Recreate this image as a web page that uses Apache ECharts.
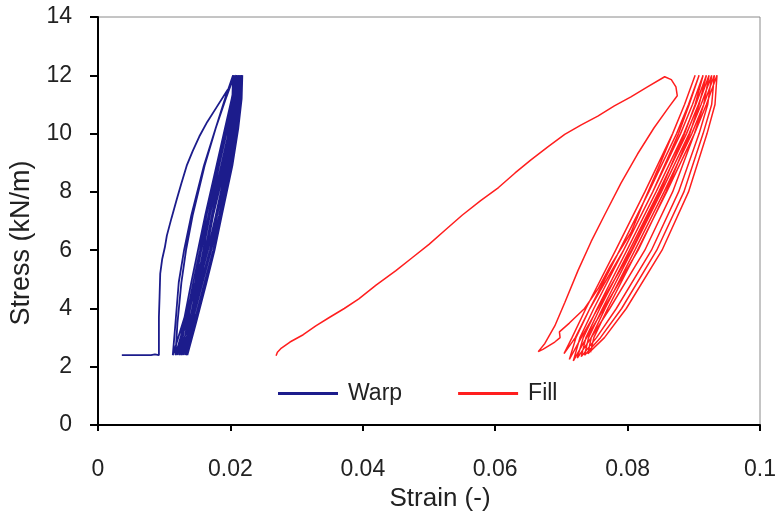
<!DOCTYPE html>
<html>
<head>
<meta charset="utf-8">
<script src="https://cdn.jsdelivr.net/npm/echarts@6/dist/echarts.min.js"></script>
<style>html,body{margin:0;padding:0;background:#fff}#c{width:779px;height:517px}</style>
</head>
<body>
<div id="c"></div>
<script>
// ---- data (strain, stress) ----
var xTicks = [0, 0.02, 0.04, 0.06, 0.08, 0.1];
var yTicks = [0, 2, 4, 6, 8, 10, 12, 14];

var warpLoading = [[0.0036,2.4],[0.0060,2.4],[0.0080,2.4],[0.0086,2.43],[0.0092,2.4],[0.0092,3.0],[0.0092,3.7],[0.0093,4.4],[0.0094,5.2],[0.0097,5.7],[0.0101,6.1],[0.0104,6.5],[0.0111,7.1],[0.0119,7.75],[0.0126,8.3],[0.0134,8.9],[0.0143,9.4],[0.0153,9.9],[0.0165,10.4],[0.0179,10.9],[0.0193,11.4],[0.0203,11.75],[0.0209,12.0]];
var warpCycles = [
[0.0208,11.2],[0.0202,10.2],[0.0192,8.9],[0.0174,7.2],[0.0161,6],[0.0147,4.9],[0.0128,3.5],[0.0113,2.4],
[0.0117,3.5],[0.0122,4.9],[0.0130,6],[0.0141,7.2],[0.0160,8.9],[0.0178,10.2],[0.0193,11.2],[0.0206,12],
[0.0205,11.2],[0.0200,10.2],[0.0190,8.9],[0.0174,7.2],[0.0162,6],[0.0148,4.9],[0.0131,3.5],[0.0117,2.4],
[0.0120,3.5],[0.0126,4.9],[0.0133,6],[0.0143,7.2],[0.0161,8.9],[0.0178,10.2],[0.0192,11.2],[0.0204,12],
[0.0203,11.2],[0.0198,10.2],[0.0189,8.9],[0.0174,7.2],[0.0162,6],[0.0149,4.9],[0.0133,3.5],[0.0120,2.4],
[0.0129,3.5],[0.0141,4.9],[0.0151,6],[0.0162,7.2],[0.0179,8.9],[0.0192,10.2],[0.0202,11.2],[0.0209,12],
[0.0208,11.2],[0.0203,10.2],[0.0194,8.9],[0.0178,7.2],[0.0166,6],[0.0153,4.9],[0.0137,3.5],[0.0123,2.4],
[0.0132,3.5],[0.0144,4.9],[0.0154,6],[0.0164,7.2],[0.0181,8.9],[0.0194,10.2],[0.0204,11.2],[0.0211,12],
[0.0210,11.2],[0.0205,10.2],[0.0196,8.9],[0.0180,7.2],[0.0169,6],[0.0156,4.9],[0.0140,3.5],[0.0126,2.4],
[0.0135,3.5],[0.0147,4.9],[0.0156,6],[0.0167,7.2],[0.0183,8.9],[0.0196,10.2],[0.0206,11.2],[0.0213,12],
[0.0212,11.2],[0.0207,10.2],[0.0198,8.9],[0.0183,7.2],[0.0171,6],[0.0158,4.9],[0.0142,3.5],[0.0129,2.4],
[0.0138,3.5],[0.0150,4.9],[0.0159,6],[0.0169,7.2],[0.0186,8.9],[0.0199,10.2],[0.0208,11.2],[0.0215,12],
[0.0214,11.2],[0.0209,10.2],[0.0200,8.9],[0.0185,7.2],[0.0174,6],[0.0161,4.9],[0.0145,3.5],[0.0132,2.4],
[0.0141,3.5],[0.0152,4.9],[0.0162,6],[0.0172,7.2],[0.0188,8.9],[0.0201,10.2],[0.0210,11.2],[0.0217,12],
[0.0216,11.2],[0.0211,10.2],[0.0202,8.9],[0.0187,7.2],[0.0176,6],[0.0164,4.9],[0.0148,3.5],[0.0135,2.4],
[0.0143,3.5],[0.0155,4.9],[0.0164,6],[0.0174,7.2],[0.0190,8.9],[0.0202,10.2],[0.0211,11.2],[0.0218,12],
[0.0217,11.2],[0.0212,10.2],[0.0203,8.9],[0.0187,7.2],[0.0176,6],[0.0163,4.9],[0.0147,3.5],[0.0133,2.4]
];

var fillLoading = [[0.0269,2.38],[0.0271,2.5],[0.0276,2.62],[0.0290,2.85],[0.0310,3.1],[0.0329,3.4],[0.0350,3.7],[0.0372,4.0],[0.0394,4.33],[0.0420,4.8],[0.0450,5.3],[0.0475,5.75],[0.0500,6.2],[0.0525,6.7],[0.0550,7.2],[0.0578,7.7],[0.0605,8.15],[0.0630,8.65],[0.0654,9.1],[0.0680,9.55],[0.0705,9.97],[0.0730,10.3],[0.0755,10.6],[0.0780,10.95],[0.0805,11.26],[0.0830,11.6],[0.0856,11.95],[0.0866,11.85],[0.0873,11.6],[0.0875,11.3]];
var fillFirstLoop = [[0.0862,10.9],[0.0840,10.2],[0.0815,9.3],[0.0790,8.3],[0.0765,7.2],[0.0745,6.3],[0.0725,5.3],[0.0705,4.2],[0.0690,3.4],[0.0675,2.8],[0.0665,2.52],[0.0662,2.48],
[0.0672,2.6],[0.0690,2.85],[0.0698,3.0],[0.0697,3.2],[0.0712,3.5],[0.0735,4.0],[0.0756,4.7],[0.0774,5.46],[0.0805,6.6],[0.0826,7.75],[0.0848,8.9],[0.0868,10.0],[0.0886,11.0],[0.0902,12]];
var fillCycles = [
[0.0886,11],[0.0868,10],[0.0826,8],[0.0782,6],[0.0737,4],[0.0716,3],[0.0704,2.45],
[0.0721,3],[0.0743,4],[0.0794,6],[0.0838,8],[0.0877,10],[0.0893,11],[0.0908,12],
[0.0892,11],[0.0874,10],[0.0832,8],[0.0788,6],[0.0743,4],[0.0722,3],[0.0712,2.25],
[0.0730,3],[0.0755,4],[0.0806,6],[0.0849,8],[0.0886,10],[0.0902,11],[0.0914,12],
[0.0898,11],[0.0880,10],[0.0838,8],[0.0794,6],[0.0749,4],[0.0728,3],[0.0718,2.2],
[0.0738,3],[0.0764,4],[0.0816,6],[0.0858,8],[0.0894,10],[0.0908,11],[0.0919,12],
[0.0903,11],[0.0885,10],[0.0843,8],[0.0799,6],[0.0754,4],[0.0733,3],[0.0724,2.3],
[0.0745,3],[0.0773,4],[0.0826,6],[0.0868,8],[0.0901,10],[0.0915,11],[0.0923,12],
[0.0907,11],[0.0889,10],[0.0847,8],[0.0803,6],[0.0758,4],[0.0737,3],[0.0730,2.35],
[0.0753,3],[0.0783,4],[0.0836,6],[0.0877,8],[0.0908,10],[0.0921,11],[0.0927,12],
[0.0911,11],[0.0893,10],[0.0851,8],[0.0807,6],[0.0762,4],[0.0741,3],[0.0735,2.4],
[0.0759,3],[0.0791,4],[0.0844,6],[0.0885,8],[0.0914,10],[0.0927,11],[0.0931,12],
[0.0915,11],[0.0897,10],[0.0855,8],[0.0811,6],[0.0766,4],[0.0745,3],[0.0740,2.45],
[0.0765,3],[0.0798,4],[0.0852,6],[0.0892,8],[0.0920,10],[0.0932,11],[0.0935,12],
[0.0919,11],[0.0901,10],[0.0859,8],[0.0815,6],[0.0770,4],[0.0749,3],[0.0744,2.5]
];

var warpData = warpLoading.concat(warpCycles);
var fillData = fillLoading.concat(fillFirstLoop, fillCycles);

var FONT = 'Liberation Sans, Arial, sans-serif';
var chart = echarts.init(document.getElementById('c'), null, {renderer: 'canvas'});
chart.setOption({
  animation: false,
  backgroundColor: '#fff',
  grid: {left: 98, right: 16, top: 17, bottom: 90, show: true, borderColor: '#8a8a8a', borderWidth: 1},
  legend: {
    left: 273, top: 377, itemWidth: 60, itemHeight: 3, itemGap: 56,
    icon: 'rect',
    textStyle: {fontFamily: FONT, fontSize: 23, color: '#222', padding: [0, 0, 0, 5]},
    data: ['Warp', 'Fill']
  },
  xAxis: {
    type: 'value', min: xTicks[0], max: xTicks[xTicks.length - 1], interval: 0.02,
    name: 'Strain (-)', nameLocation: 'middle', nameGap: 57,
    nameTextStyle: {fontFamily: FONT, fontSize: 26, color: '#222', padding: [0, 0, 0, 22]},
    axisLine: {show: true, onZero: false, lineStyle: {color: '#000', width: 2}},
    axisTick: {show: true, inside: false, length: 6, lineStyle: {color: '#000', width: 2}},
    axisLabel: {fontFamily: FONT, fontSize: 23, color: '#222', margin: 33,
      formatter: function (v) { return String(parseFloat(v.toFixed(4))); }},
    splitLine: {show: false}
  },
  yAxis: {
    type: 'value', min: yTicks[0], max: yTicks[yTicks.length - 1], interval: 2,
    name: 'Stress (kN/m)', nameLocation: 'middle', nameGap: 59, nameRotate: 90,
    nameTextStyle: {fontFamily: FONT, fontSize: 27, color: '#222', padding: [0, 44, 0, 0]},
    axisLine: {show: true, onZero: false, lineStyle: {color: '#000', width: 2}},
    axisTick: {show: true, inside: false, length: 8, lineStyle: {color: '#000', width: 2}},
    axisLabel: {fontFamily: FONT, fontSize: 23, color: '#222', margin: 26},
    splitLine: {show: false}
  },
  series: [
    {name: 'Warp', type: 'line', data: warpData, showSymbol: false, symbol: 'none',
     lineStyle: {color: '#1c1c8c', width: 1.8}, itemStyle: {color: '#1c1c8c'}},
    {name: 'Fill', type: 'line', data: fillData, showSymbol: false, symbol: 'none',
     lineStyle: {color: '#ff1e1e', width: 1.5}, itemStyle: {color: '#ff1e1e'}}
  ]
});
</script>
</body>
</html>
